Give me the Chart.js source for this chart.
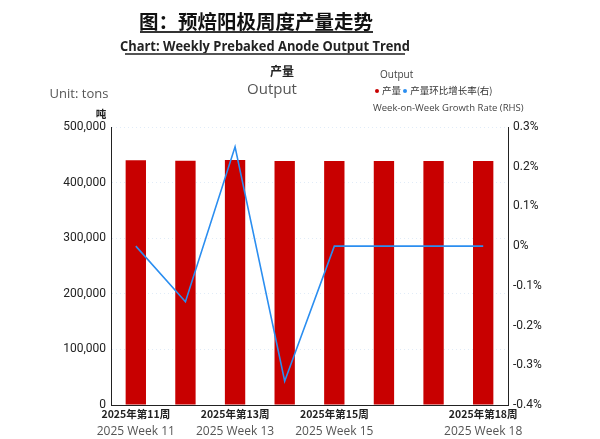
<!DOCTYPE html>
<html>
<head>
<meta charset="utf-8">
<script src="https://cdn.jsdelivr.net/npm/chart.js@4"></script>
<style>
  body { margin: 0; background: #fff; }
  #wrap { position: relative; width: 600px; height: 439px; overflow: hidden; }
  #wrap canvas { position: absolute; left: 0; top: 0; }
  .t { position: absolute; white-space: nowrap; transform: translate(-50%, -50%); line-height: 1; }
  .l { position: absolute; white-space: nowrap; transform: translateY(-50%); line-height: 1; }
  .dot { display: inline-block; width: 4px; height: 4px; border-radius: 50%; margin: 0 3px 1px 0; vertical-align: middle; }
</style>
</head>
<body>
<div id="wrap">
  <canvas id="chart" width="600" height="439"></canvas>

  <div class="t" style="left:256px; top:20px; font:bold 19.5px 'Noto Sans CJK SC'; color:#111;">图：预焙阳极周度产量走势</div>
  <div style="position:absolute; left:140px; top:31px; width:233px; height:2px; background:#333;"></div>
  <div class="t" style="left:265px; top:45px; font:bold 15px 'Open Sans'; color:#222; transform:translate(-50%,-50%) scaleX(0.86);">Chart: Weekly Prebaked Anode Output Trend</div>
  <div style="position:absolute; left:125px; top:53px; width:280px; height:1.5px; background:#555;"></div>

  <div class="t" style="left:282px; top:70px; font:bold 12px 'Noto Sans CJK SC'; color:#222;">产量</div>
  <div class="t" style="left:272px; top:88px; font:15px 'Open Sans'; color:#555;">Output</div>

  <div class="t" style="left:79px; top:93px; font:13px 'Open Sans'; color:#555;">Unit: tons</div>
  <div class="t" style="left:101px; top:113px; font:bold 10.5px 'Noto Sans CJK SC'; color:#222;">吨</div>

  <div class="l" style="left:380px; top:74px; font:10px 'Open Sans'; color:#444;">Output</div>
  <div class="l" style="left:375px; top:90px; font:9.5px 'Noto Sans CJK SC'; color:#333;"><span class="dot" style="background:#c80000"></span>产量 <span class="dot" style="background:#2b8ef0"></span>产量环比增长率(右)</div>
  <div class="l" style="left:373px; top:107px; font:9.5px 'Open Sans'; color:#444;">Week-on-Week Growth Rate (RHS)</div>
</div>

<script>
const weeksCn = ['2025年第11周', '2025年第12周', '2025年第13周', '2025年第14周', '2025年第15周', '2025年第16周', '2025年第17周', '2025年第18周'];
const weeksEn = ['2025 Week 11', '2025 Week 12', '2025 Week 13', '2025 Week 14', '2025 Week 15', '2025 Week 16', '2025 Week 17', '2025 Week 18'];
const shownWeeks = [0, 2, 4, 7];
const output = [440000, 439400, 440500, 439000, 439000, 439000, 439000, 439000];
const growth = [0, -0.14, 0.25, -0.34, 0, 0, 0, 0];
const outputTicks = [0, 100000, 200000, 300000, 400000, 500000];
const growthTicks = [-0.4, -0.3, -0.2, -0.1, 0, 0.1, 0.2, 0.3];

const ctx = document.getElementById('chart').getContext('2d');

new Chart(ctx, {
    type: 'bar',
    data: {
        labels: weeksCn,
        datasets: [{
            type: 'line',
            label: '产量环比增长率(右)',
            data: growth,
            yAxisID: 'y1',
            borderColor: '#2b8ef0',
            borderWidth: 1.6,
            pointRadius: 0,
            tension: 0,
            fill: false,
            order: 0
        }, {
            type: 'bar',
            label: '产量',
            data: output,
            yAxisID: 'y',
            backgroundColor: '#c80000',
            barPercentage: 0.41,
            categoryPercentage: 1.0,
            order: 1
        }]
    },
    options: {
        responsive: false,
        animation: false,
        layout: { padding: { top: 127, left: 0, right: 0, bottom: 0 } },
        plugins: {
            legend: { display: false },
            tooltip: { enabled: false }
        },
        scales: {
            x: {
                position: 'bottom',
                offset: true,
                grid: { display: false, drawTicks: false },
                border: { display: true, color: '#222', width: 1 },
                ticks: {
                    autoSkip: false,
                    maxRotation: 0,
                    padding: 3,
                    color: '#222',
                    font: { family: 'Noto Sans CJK SC', size: 10.5, weight: 'bold' },
                    callback: (v, i) => shownWeeks.includes(i) ? weeksCn[i] : ''
                },
                afterFit: s => { s.height = 16; }
            },
            x2: {
                position: 'bottom',
                offset: true,
                grid: { display: false, drawTicks: false },
                border: { display: false },
                ticks: {
                    autoSkip: false,
                    maxRotation: 0,
                    padding: 3,
                    color: '#555',
                    font: { family: 'Open Sans', size: 12 },
                    callback: (v, i) => shownWeeks.includes(i) ? weeksEn[i] : ''
                },
                afterFit: s => { s.height = 18; }
            },
            y: {
                position: 'left',
                min: 0,
                max: 500000,
                afterBuildTicks: s => { s.ticks = outputTicks.map(v => ({ value: v })); },
                grid: { color: 'rgba(170,200,235,0.35)', drawTicks: false },
                border: { color: '#222', width: 1, dash: [1, 3] },
                ticks: {
                    padding: 5,
                    color: '#222',
                    font: { family: 'Roboto', size: 12 },
                    callback: v => v.toLocaleString('en-US')
                },
                afterFit: s => { s.width = 111; }
            },
            y1: {
                position: 'right',
                min: -0.4,
                max: 0.3,
                afterBuildTicks: s => { s.ticks = growthTicks.map(v => ({ value: v })); },
                grid: { display: false, drawTicks: false },
                border: { color: '#222', width: 1 },
                ticks: {
                    padding: 5,
                    color: '#222',
                    font: { family: 'Roboto', size: 12 },
                    callback: v => (Math.round(v * 10) / 10) + '%'
                },
                afterFit: s => { s.width = 92; }
            }
        }
    }
});
</script>
</body>
</html>
